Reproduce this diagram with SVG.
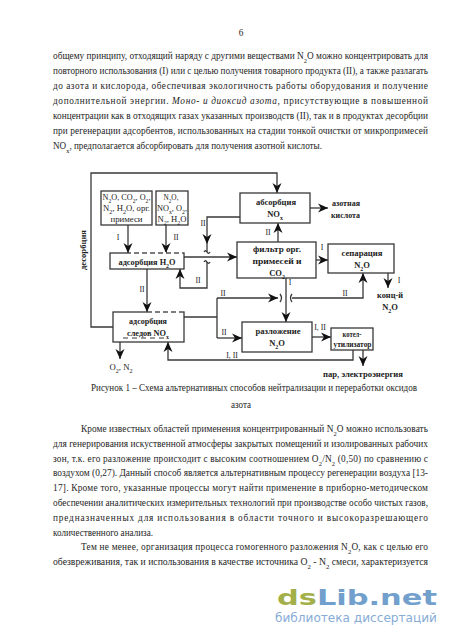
<svg xmlns="http://www.w3.org/2000/svg" width="450" height="637" viewBox="0 0 450 637">
<defs>
<style>
.t{font-family:'Liberation Serif','Times New Roman',Times,serif;font-size:9.3px;fill:#1e1e1e}
.d{font-family:'Liberation Serif','Times New Roman',Times,serif;font-size:7.8px;fill:#222}
.b{font-family:'Liberation Serif','Times New Roman',Times,serif;font-size:8.5px;font-weight:bold;fill:#222}
.m{text-anchor:middle}
.s{font-size:70%;baseline-shift:sub}
.ln{fill:none;stroke:#383838;stroke-width:1.3}
.bx{fill:#fff;stroke:#383838;stroke-width:1.3}
.gap{fill:none;stroke:#fff;stroke-width:1.8;stroke-dasharray:3 5}
.arr{marker-end:url(#a)}
</style>
<marker id="a" viewBox="0 0 10 10" refX="10" refY="5" markerWidth="10" markerHeight="10" markerUnits="userSpaceOnUse" orient="auto">
<path d="M0,0.5 L10,5 L0,9.5 L3,5 z" fill="#111"/>
</marker>
</defs>
<rect width="450" height="637" fill="#fff"/>

<g id="page-text">
<text class="t m" x="241" y="36">6</text>
<text class="t" x="53" y="58.5" textLength="375" lengthAdjust="spacing">общему принципу, отходящий наряду с другими веществами N<tspan class="s">2</tspan>O можно концентрировать для</text>
<text class="t" x="53" y="73.5" textLength="375" lengthAdjust="spacingAndGlyphs">повторного использования (I) или с целью получения товарного продукта (II), а также разлагать</text>
<text class="t" x="53" y="88.5" textLength="375" lengthAdjust="spacing">до азота и кислорода, обеспечивая экологичность работы оборудования и получение</text>
<text class="t" x="53" y="103.5" textLength="375" lengthAdjust="spacing">дополнительной энергии. <tspan font-style="italic">Моно- и диоксид азота,</tspan> присутствующие в повышенной</text>
<text class="t" x="53" y="118.5" textLength="375" lengthAdjust="spacingAndGlyphs">концентрации как в отходящих газах указанных производств (II), так и в продуктах десорбции</text>
<text class="t" x="53" y="133.5" textLength="375" lengthAdjust="spacing">при регенерации адсорбентов, использованных на стадии тонкой очистки от микропримесей</text>
<text class="t" x="53" y="148.5" textLength="269" lengthAdjust="spacingAndGlyphs">NO<tspan class="s">x</tspan>, предполагается абсорбировать для получения азотной кислоты.</text>

<text class="t" x="91" y="391" textLength="326" lengthAdjust="spacingAndGlyphs">Рисунок 1 – Схема альтернативных способов нейтрализации и переработки оксидов</text>
<text class="t" x="231" y="408" textLength="20" lengthAdjust="spacingAndGlyphs">азота</text>

<text class="t" x="81" y="432" textLength="347" lengthAdjust="spacing">Кроме известных областей применения концентрированный N<tspan class="s">2</tspan>O можно использовать</text>
<text class="t" x="53" y="446.8" textLength="375" lengthAdjust="spacingAndGlyphs">для генерирования искуственной атмосферы закрытых помещений и изолированных рабочих</text>
<text class="t" x="53" y="461.6" textLength="375" lengthAdjust="spacing">зон, т.к. его разложение происходит с высоким соотношением O<tspan class="s">2</tspan>/N<tspan class="s">2</tspan> (0,50) по сравнению с</text>
<text class="t" x="53" y="476.4" textLength="375" lengthAdjust="spacingAndGlyphs">воздухом (0,27). Данный способ является альтернативным процессу регенерации воздуха [13-</text>
<text class="t" x="53" y="491.2" textLength="375" lengthAdjust="spacing">17]. Кроме того, указанные процессы могут найти применение в приборно-методическом</text>
<text class="t" x="53" y="506" textLength="375" lengthAdjust="spacingAndGlyphs">обеспечении аналитических измерительных технологий при производстве особо чистых газов,</text>
<text class="t" x="53" y="520.8" textLength="375" lengthAdjust="spacing">предназначенных для использования в области точного и высокоразрешающего</text>
<text class="t" x="53" y="535.6" textLength="100" lengthAdjust="spacingAndGlyphs">количественного анализа.</text>
<text class="t" x="81" y="550.4" textLength="347" lengthAdjust="spacing">Тем не менее, организация процесса гомогенного разложения N<tspan class="s">2</tspan>O, как с целью его</text>
<text class="t" x="53" y="565.2" textLength="375" lengthAdjust="spacingAndGlyphs">обезвреживания, так и использования в качестве источника O<tspan class="s">2</tspan> - N<tspan class="s">2</tspan> смеси, характеризуется</text>
</g>

<g id="connectors">
<path class="ln arr" d="M113,327 H91 V173 H277 V193"/>
<path class="ln arr" d="M128,225 V253"/>
<path class="ln arr" d="M166,225 V253"/>
<path class="ln arr" d="M184,257 H237"/>
<path class="ln arr" d="M240,217 H207 V244"/>
<path class="ln" d="M207,244 V252"/>
<path class="ln" d="M204,252 q1.5,-2.5 3,0 q1.5,2.5 3,0"/>
<path class="ln" d="M204,262 q1.5,-2.5 3,0 q1.5,2.5 3,0"/>
<path class="ln arr" d="M207,262 V288 H180 V269"/>
<path class="ln arr" d="M147,269 V312"/>
<path class="ln arr" d="M310,208 H328"/>
<path class="ln arr" d="M278,242 V223"/>
<path class="ln arr" d="M316,260 H328"/>
<path class="ln arr" d="M388,273 V288"/>
<path class="ln" d="M184,317 H217"/>
<path class="ln" d="M217,298 V338"/>
<path class="ln arr" d="M217,298 H278"/>
<path class="ln" d="M280,294 q3,4 0,8"/>
<path class="ln" d="M292,294 q-3,4 0,8"/>
<path class="ln arr" d="M292,298 H363 V273"/>
<path class="ln arr" d="M217,338 H242"/>
<path class="ln arr" d="M286,278 V322"/>
<path class="ln arr" d="M312,337 H331"/>
<path class="ln arr" d="M363,350 V366"/>
<path class="ln arr" d="M353,350 V360 H168 V342"/>
<path class="ln arr" d="M120,342 V359"/>

<text class="b m" transform="translate(86,250) rotate(-90)" textLength="40" lengthAdjust="spacingAndGlyphs">десорбция</text>
<text class="d m" x="118" y="240">I</text>
<text class="d m" x="176" y="240">II</text>
<text class="d m" x="203" y="226">II</text>
<text class="d m" x="198" y="283">II</text>
<text class="d m" x="142" y="292">II</text>
<text class="d m" x="268" y="235">II</text>
<text class="d m" x="322" y="250">I</text>
<text class="d m" x="399" y="283">I</text>
<text class="d m" x="223" y="296">II</text>
<text class="d m" x="345" y="296">II</text>
<text class="d m" x="290" y="285">I</text>
<text class="d m" x="224" y="335">II</text>
<text class="d m" x="320" y="330">I, II</text>
<text class="d m" x="232" y="358">I, II</text>
</g>

<g id="feed1">
<rect class="bx" x="101" y="191" width="51" height="34"/>
<text class="d m" x="126.5" y="200" textLength="48" lengthAdjust="spacingAndGlyphs">N<tspan class="s">2</tspan>O, CO<tspan class="s">2</tspan>, O<tspan class="s">2</tspan>,</text>
<text class="d m" x="126.5" y="211" textLength="47" lengthAdjust="spacingAndGlyphs">N<tspan class="s">2</tspan>, H<tspan class="s">2</tspan>O, орг.</text>
<text class="d m" x="126.5" y="222" textLength="32" lengthAdjust="spacingAndGlyphs">примеси</text>
</g>

<g id="feed2">
<rect class="bx" x="156" y="191" width="32" height="34"/>
<text class="d m" x="171" y="200" textLength="15" lengthAdjust="spacingAndGlyphs">N<tspan class="s">2</tspan>O,</text>
<text class="d m" x="172" y="211" textLength="30" lengthAdjust="spacingAndGlyphs">NO<tspan class="s">x</tspan>, O<tspan class="s">2</tspan>,</text>
<text class="d m" x="172" y="222" textLength="29" lengthAdjust="spacingAndGlyphs">N<tspan class="s">2</tspan>, H<tspan class="s">2</tspan>O</text>
</g>

<g id="ads-h2o">
<rect class="bx" x="110" y="253" width="74" height="16"/>
<path class="gap" d="M131,253 H182"/>
<text class="b m" x="147" y="264.5" textLength="57" lengthAdjust="spacingAndGlyphs">адсорбция H<tspan class="s">2</tspan>O</text>
</g>

<g id="abs-nox">
<rect class="bx" x="240" y="193" width="70" height="30"/>
<text class="b m" x="276" y="205" textLength="40" lengthAdjust="spacingAndGlyphs">абсорбция</text>
<text class="b m" x="275" y="217">NO<tspan class="s">x</tspan></text>
</g>
<g id="acid">
<text class="b" x="332" y="206" textLength="28" lengthAdjust="spacingAndGlyphs">азотная</text>
<text class="b" x="331" y="218" textLength="29" lengthAdjust="spacingAndGlyphs">кислота</text>
</g>

<g id="filter">
<rect class="bx" x="237" y="242" width="79" height="36"/>
<text class="b m" x="277" y="252" textLength="48" lengthAdjust="spacingAndGlyphs">фильтр орг.</text>
<text class="b m" x="277" y="264" textLength="49" lengthAdjust="spacingAndGlyphs">примесей и</text>
<text class="b m" x="277" y="276">CO<tspan class="s">2</tspan></text>
</g>

<g id="separation">
<rect class="bx" x="328" y="244" width="66" height="29"/>
<text class="b m" x="362" y="256" textLength="41" lengthAdjust="spacingAndGlyphs">сепарация</text>
<text class="b m" x="362" y="268">N<tspan class="s">2</tspan>O</text>
</g>
<g id="conc">
<text class="b m" x="390" y="298" textLength="26" lengthAdjust="spacingAndGlyphs">конц-й</text>
<text class="b m" x="390" y="310">N<tspan class="s">2</tspan>O</text>
</g>

<g id="ads-nox">
<rect class="bx" x="113" y="312" width="71" height="30"/>
<path class="gap" d="M152,312 H182"/>
<path d="M123,338 H168" fill="none" stroke="#383838" stroke-width="1" stroke-dasharray="5 4"/>
<text class="b m" x="148" y="324" textLength="38" lengthAdjust="spacingAndGlyphs">адсорбция</text>
<text class="b m" x="148" y="336" style="font-size:8.2px" textLength="42" lengthAdjust="spacingAndGlyphs">следов NO<tspan class="s">x</tspan></text>
</g>
<g id="o2n2">
<text class="d m" x="121" y="370" textLength="23" lengthAdjust="spacingAndGlyphs">O<tspan class="s">2</tspan>, N<tspan class="s">2</tspan></text>
</g>

<g id="decomp">
<rect class="bx" x="242" y="322" width="70" height="30"/>
<text class="b m" x="278" y="334" textLength="45" lengthAdjust="spacingAndGlyphs">разложение</text>
<text class="b m" x="277" y="346">N<tspan class="s">2</tspan>O</text>
</g>

<g id="boiler">
<rect class="bx" x="331" y="328" width="42" height="22"/>
<text class="b m" x="352" y="337" style="font-size:7.5px" textLength="19" lengthAdjust="spacingAndGlyphs">котел-</text>
<text class="b m" x="352.5" y="347" style="font-size:7.5px" textLength="38" lengthAdjust="spacingAndGlyphs">утилизатор</text>
</g>
<g id="steam">
<text class="b m" x="363" y="377" textLength="80" lengthAdjust="spacingAndGlyphs">пар, электроэнергия</text>
</g>

<g id="watermark">
<text x="277" y="605" textLength="160" lengthAdjust="spacingAndGlyphs" style="font-family:'DejaVu Sans',sans-serif;font-size:21px;font-weight:bold"><tspan fill="#a3b04a">ds</tspan><tspan fill="#729fcc">Lib.net</tspan></text>
<text x="275" y="622" textLength="162" lengthAdjust="spacingAndGlyphs" style="font-family:'DejaVu Sans',sans-serif;font-size:11.5px;fill:#86acd6">библиотека диссертаций</text>
</g>
</svg>
